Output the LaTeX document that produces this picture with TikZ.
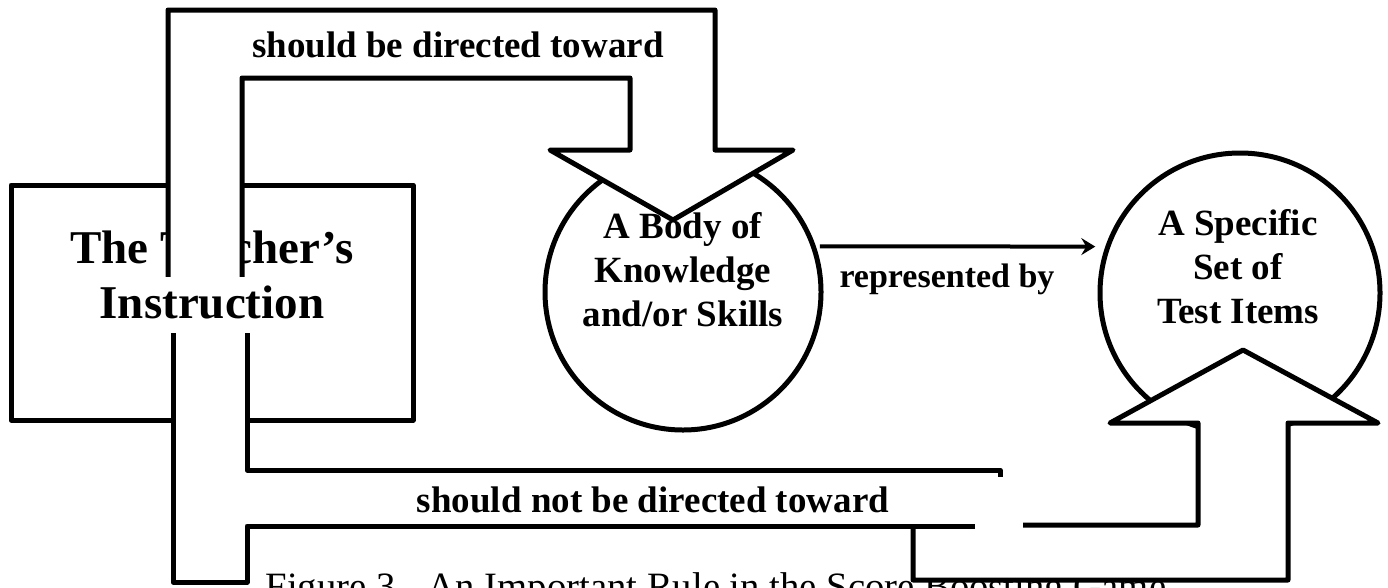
\documentclass[tikz,border=0pt]{standalone}
\usepackage{fontspec}
\setmainfont{Liberation Serif}
\usepackage{tikz}
\usetikzlibrary{arrows.meta}
\definecolor{ink}{RGB}{0,0,0}
\definecolor{paper}{RGB}{255,255,255}

\newcommand{\bigbold}{\bfseries\fontsize{47}{55}\selectfont}
\newcommand{\midbold}{\bfseries\fontsize{37}{44}\selectfont}

\begin{document}
\begin{tikzpicture}[x=1pt, y=-1pt, line width=5pt, line join=round,
    ring/.style={circle, draw=ink, line width=5pt, inner sep=0pt},
    words/.style={inner sep=0pt, font=\midbold, align=center}]
    \useasboundingbox (0,0) rectangle (1388,587);
    \clip (0,0) rectangle (1388,587);

    % The teacher's box
    \node[draw=ink, minimum width=402pt, minimum height=235pt, inner sep=0pt] (teacher) at (212,302.5) {};
    \node[anchor=base, inner sep=0pt, font=\bigbold] (teachtop) at (212,263) {The Teacher’s};

    % Knowledge and test items
    \node[ring, minimum size=276pt] (body) at (683,292) {};
    \node[ring, minimum size=280pt] (items) at (1240,293) {};

    % Caption, partly hidden by the up arrow
    \node[anchor=base west, inner sep=0pt, font=\fontsize{38.7}{44}\selectfont] (caption) at (263,599) {Figure 3.~ An Important Rule in the Score Boosting Game};

    % Upper arrow: should be directed toward
    \draw[fill=paper] (242,305) -- (242,78) -- (630,78) -- (630,150) -- (550,150) -- (673,220)
        -- (793,150) -- (715,150) -- (715,10) -- (168,10) -- (168,305);

    % Up arrow into the test items
    \draw[fill=paper] (1023,525) -- (1198,525) -- (1198,423) -- (1110,423) -- (1243,350)
        -- (1378,423) -- (1288,423) -- (1288,580) -- (913,580) -- (913,526);

    % Lower band: should not be directed toward
    \fill[paper] (173,305) -- (247,305) -- (247,470) -- (1000,470) -- (1000,526)
        -- (247,526) -- (247,582) -- (173,582) -- cycle;
    \draw (247,305) -- (247,470) -- (1000,470) -- (1000,477);
    \draw (975,526) -- (247,526) -- (247,582) -- (173,582) -- (173,305);

    % Texts on top
    \node[anchor=base, font=\bigbold, fill=paper, inner xsep=2pt, inner ysep=0pt,
        text height=41pt, text depth=15pt] (teachlow) at (212,318) {Instruction};
    \node[words, anchor=north] (bodytext) at (683,209.5) {A Body of\\Knowledge\\and/or Skills};
    \node[words, anchor=north] (itemstext) at (1238,206.5) {A Specific\\Set of\\Test Items};
    \node[words, anchor=base] (toward) at (458,57) {should be directed toward};
    \node[words, anchor=base] (nottoward) at (653,512) {should not be directed toward};

    % Represented by
    \draw[-{Stealth[length=14pt, width=17pt, inset=5pt]}, line width=4pt, shorten <=4pt, shorten >=10pt]
        (body.19) -- (items.161);
    \node[words, anchor=base, font=\bfseries\fontsize{34}{40}\selectfont] (repr) at (947,287) {represented by};
\end{tikzpicture}
\end{document}
